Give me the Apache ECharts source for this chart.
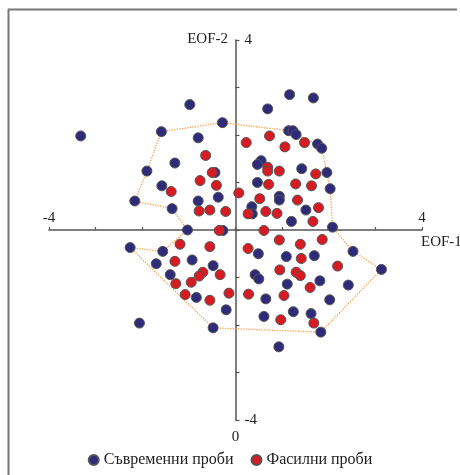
<!DOCTYPE html>
<html>
<head>
<meta charset="utf-8">
<script src="https://cdn.jsdelivr.net/npm/echarts@6/dist/echarts.min.js"></script>
<style>html,body{margin:0;padding:0;background:#fff;}#c{width:460px;height:475px;}</style>
</head>
<body>
<div id="c"></div>
<script>
// Series names
var seriesNames = ['Съвременни проби', 'Фасилни проби'];
// Axis tick labels shown
var xTickLabels = [-4, 4];
var yTickLabels = [4, -4];

// Modern samples (EOF-1, EOF-2)
var modern = [
  [-3.32,1.98],[-0.98,2.64],[0.69,2.55],[1.16,2.85],[1.67,2.78],[-0.28,2.26],[-1.59,2.07],[-0.80,1.94],
  [1.14,2.09],[1.23,2.09],[1.30,2.01],[1.76,1.81],[1.85,1.72],[-1.30,1.41],[-1.90,1.24],[-0.44,1.21],
  [0.55,1.46],[0.47,1.38],[1.42,1.29],[1.96,1.21],[-1.58,0.93],[0.47,1.00],[2.03,0.87],[-2.16,0.61],
  [-0.80,0.61],[-0.37,0.69],[0.94,0.71],[0.94,0.63],[-1.36,0.45],[0.35,0.49],[1.51,0.42],[0.36,0.34],
  [1.20,0.18],[2.08,0.06],[-1.03,0.00],[-0.27,-0.01],
  [-2.26,-0.37],[-1.56,-0.45],[0.49,-0.50],[2.52,-0.45],[1.09,-0.56],[1.69,-0.54],[-0.93,-0.63],[-1.70,-0.71],
  [3.13,-0.83],[-0.48,-0.75],[-1.40,-0.94],[0.42,-0.94],[0.50,-1.03],[1.81,-1.07],[1.11,-1.14],[2.42,-1.16],
  [-0.84,-1.42],[0.65,-1.45],[2.02,-1.47],[-0.20,-1.68],[1.24,-1.72],[1.62,-1.76],[0.61,-1.82],[-2.06,-1.96],
  [-0.48,-2.06],[1.83,-2.15],[0.93,-2.46]
];
// Fossil samples (EOF-1, EOF-2)
var fossil = [
  [0.73,1.98],[0.23,1.84],[1.06,1.75],[1.48,1.84],[-0.64,1.57],[-0.50,1.21],[0.69,1.32],[0.69,1.24],
  [0.94,1.24],[1.72,1.18],[-0.76,1.04],[-0.41,0.94],[0.71,0.96],[1.29,0.97],[1.63,0.93],[-1.38,0.81],
  [0.07,0.78],[0.52,0.66],[1.33,0.63],[-0.78,0.40],[-0.55,0.42],[-0.21,0.39],[0.65,0.39],[0.89,0.35],
  [1.78,0.47],[0.27,0.34],[1.66,0.18],[-0.35,-0.01],[0.61,-0.01],[0.94,-0.21],[1.86,-0.20],
  [1.39,-0.30],[-1.19,-0.30],[-0.55,-0.35],[0.27,-0.39],[-1.30,-0.66],[1.41,-0.60],[2.19,-0.76],[0.95,-0.84],
  [1.30,-0.89],[1.39,-0.96],[-0.70,-0.89],[-0.78,-0.97],[-0.33,-0.94],[-1.28,-1.13],[-0.95,-1.10],[1.60,-1.21],
  [-1.08,-1.36],[-0.14,-1.33],[0.28,-1.35],[1.04,-1.38],[-0.55,-1.48],[0.97,-1.89],[1.68,-1.96]
];
// Enclosing outline of modern samples
var outline = [
  [-0.28,2.26],[1.14,2.09],[1.30,2.01],[1.76,1.81],[1.85,1.72],[1.96,1.21],[2.03,0.87],[2.08,0.06],
  [2.52,-0.45],[3.13,-0.83],[1.83,-2.15],[-0.48,-2.06],[-2.26,-0.37],[-1.56,-0.45],[-1.03,0.00],
  [-1.36,0.45],[-2.16,0.61],[-1.90,1.24],[-1.59,2.07],[-0.28,2.26]
];

var chart = echarts.init(document.getElementById('c'), null, {renderer: 'canvas'});
var serif = 'Liberation Serif';
var axisColor = '#555';
var gridW = 373, gridH = 380;
chart.setOption({
  backgroundColor: '#fff',
  animation: false,
  textStyle: {fontFamily: serif, color: '#222'},
  grid: {left: 49, right: 38, top: 40, bottom: 55},
  legend: {
    data: seriesNames,
    top: 447,
    left: 'center',
    itemWidth: 10, itemHeight: 10, itemGap: 17,
    icon: 'circle',
    textStyle: {fontFamily: serif, fontSize: 16, color: '#222'}
  },
  xAxis: {
    type: 'value', min: -4, max: 4, interval: 1,
    position: 'bottom', offset: -gridH / 2,
    splitLine: {show: false},
    axisLine: {onZero: false, lineStyle: {color: axisColor, width: 1.5}},
    axisTick: {inside: true, length: 3, lineStyle: {color: axisColor, width: 1.2}},
    axisLabel: {
      inside: true, margin: 4, fontFamily: serif, fontSize: 15, color: '#222',
      formatter: function (v) { return xTickLabels.indexOf(v) >= 0 ? String(v) : ''; }
    }
  },
  yAxis: {
    type: 'value', min: -4, max: 4, interval: 1,
    position: 'left', offset: -gridW / 2,
    splitLine: {show: false},
    axisLine: {onZero: false, lineStyle: {color: axisColor, width: 1.5}},
    axisTick: {inside: true, length: 4, lineStyle: {color: axisColor, width: 1.2}},
    axisLabel: {
      inside: true, margin: 9, fontFamily: serif, fontSize: 15, color: '#222',
      formatter: function (v) { return yTickLabels.indexOf(v) >= 0 ? String(v) : ''; }
    }
  },
  graphic: [
    {type: 'line', shape: {x1: 8.5, y1: 9, x2: 8.5, y2: 475}, style: {stroke: '#777', lineWidth: 2}},
    {type: 'line', shape: {x1: 8, y1: 9.5, x2: 457, y2: 9.5}, style: {stroke: '#777', lineWidth: 2}},
    {type: 'text', x: 228, y: 39, style: {text: 'EOF-2', font: '15px "Liberation Serif"', fill: '#222', align: 'right', verticalAlign: 'middle'}},
    {type: 'text', x: 421, y: 242, style: {text: 'EOF-1', font: '15px "Liberation Serif"', fill: '#222', align: 'left', verticalAlign: 'middle'}},
    {type: 'text', x: 235.5, y: 437, style: {text: '0', font: '15px "Liberation Serif"', fill: '#222', align: 'center', verticalAlign: 'middle'}}
  ],
  series: [
    {
      type: 'line', data: outline, symbol: 'none', silent: true, z: 1,
      lineStyle: {color: '#f5a04a', width: 1.3, type: 'dotted'}
    },
    {
      name: seriesNames[0], type: 'scatter', data: modern, symbol: 'circle', symbolSize: 10, z: 3,
      itemStyle: {color: '#2e2b78', borderColor: '#555', borderWidth: 1, opacity: 1}
    },
    {
      name: seriesNames[1], type: 'scatter', data: fossil, symbol: 'circle', symbolSize: 10, z: 4,
      itemStyle: {color: '#d71b22', borderColor: '#555', borderWidth: 1, opacity: 1}
    }
  ]
});
</script>
</body>
</html>
